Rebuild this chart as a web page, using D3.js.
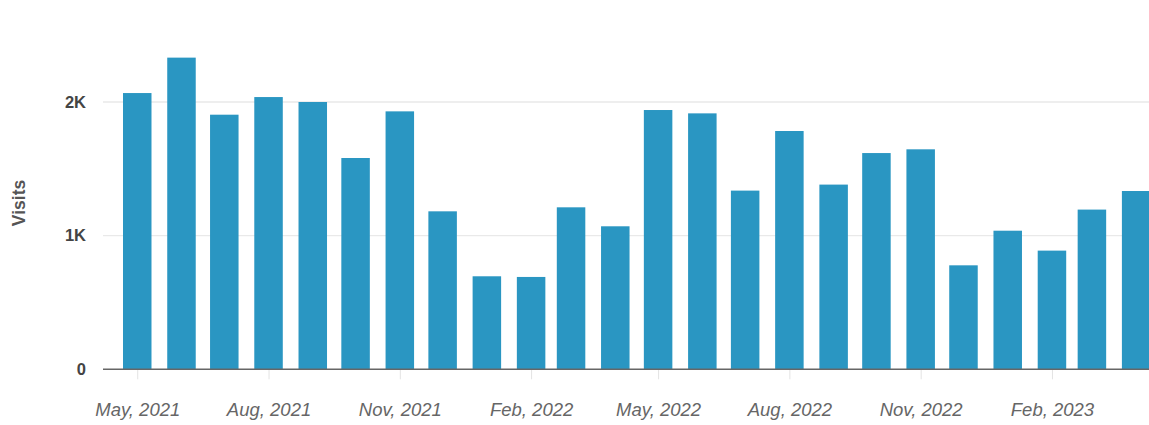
<!DOCTYPE html>
<html>
<head>
<meta charset="utf-8">
<script src="https://cdn.jsdelivr.net/npm/d3@7"></script>
<style>
  body { margin: 0; background: #fff; }
  svg { display: block; font-family: "Liberation Sans", Arial, sans-serif; }
</style>
</head>
<body>
<div id="chart"></div>
<script>
// monthly visits, May 2021 .. Apr 2023
const months = ["2021-05", "2021-06", "2021-07", "2021-08", "2021-09", "2021-10",
    "2021-11", "2021-12", "2022-01", "2022-02", "2022-03", "2022-04",
    "2022-05", "2022-06", "2022-07", "2022-08", "2022-09", "2022-10",
    "2022-11", "2022-12", "2023-01", "2023-02", "2023-03", "2023-04"];
const visits = [2067, 2332, 1905, 2037, 2000, 1581, 1930, 1182, 696, 691, 1212, 1070,
    1940, 1915, 1337, 1783, 1382, 1618, 1646, 778, 1037, 888, 1195, 1334];
const yTicks = [0, 1000, 2000];
const yTickLabels = ["0", "1K", "2K"];
const xTicks = ["2021-05", "2021-08", "2021-11", "2022-02", "2022-05", "2022-08", "2022-11", "2023-02"];

const parseMonth = d3.timeParse("%Y-%m");
const data = months.map((m, i) => ({date: parseMonth(m), value: visits[i]}));

const width = 1149, height = 425;
const margin = {top: 0, left: 103, bottom: 56};
const pxPerDay = 1.427;

const svg = d3.select("#chart").append("svg")
    .attr("width", width)
    .attr("height", height);

const start = new Date(2021, 3, 7);
const end = new Date(2023, 4, 15);
const x = d3.scaleTime()
    .domain([start, end])
    .range([margin.left, margin.left + d3.timeDay.count(start, end) * pxPerDay]);

const y = d3.scaleLinear()
    .domain([0, 2000])
    .range([369.3, 102]);

// gridlines
svg.append("g")
    .selectAll("line")
    .data(yTicks.filter(d => d > 0))
    .join("line")
    .attr("x1", margin.left)
    .attr("x2", width)
    .attr("y1", d => y(d))
    .attr("y2", d => y(d))
    .attr("stroke", "#e9e9e9")
    .attr("stroke-width", 1.3);

// bars
const barW = 28.5;
svg.append("g")
    .selectAll("rect")
    .data(data)
    .join("rect")
    .attr("x", d => x(d.date) - barW / 2)
    .attr("y", d => y(d.value))
    .attr("width", barW)
    .attr("height", d => y(0) - y(d.value))
    .attr("fill", "#2a96c2");

// x axis
const xAxis = d3.axisBottom(x)
    .tickValues(xTicks.map(parseMonth))
    .tickFormat(d3.timeFormat("%b, %Y"))
    .tickSize(10)
    .tickPadding(24);

const gx = svg.append("g")
    .attr("transform", "translate(0," + y(0) + ")")
    .call(xAxis);
gx.select(".domain").remove();
gx.selectAll(".tick line").attr("stroke", "#e3e3e3");
gx.selectAll(".tick text")
    .attr("fill", "#666")
    .attr("font-size", 18.5)
    .attr("font-style", "italic");

gx.append("line")
    .attr("x1", margin.left)
    .attr("x2", width)
    .attr("stroke", "#666")
    .attr("stroke-width", 1.6);

// y axis labels
svg.append("g")
    .selectAll("text")
    .data(yTicks)
    .join("text")
    .attr("x", 86)
    .attr("y", d => y(d))
    .attr("dy", "0.35em")
    .attr("text-anchor", "end")
    .attr("fill", "#444")
    .attr("font-size", 16.5)
    .attr("font-weight", "bold")
    .text((d, i) => yTickLabels[i]);

svg.append("text")
    .attr("transform", "translate(25,203) rotate(-90)")
    .attr("text-anchor", "middle")
    .attr("fill", "#555")
    .attr("font-size", 17.5)
    .attr("font-weight", "bold")
    .text("Visits");
</script>
</body>
</html>
